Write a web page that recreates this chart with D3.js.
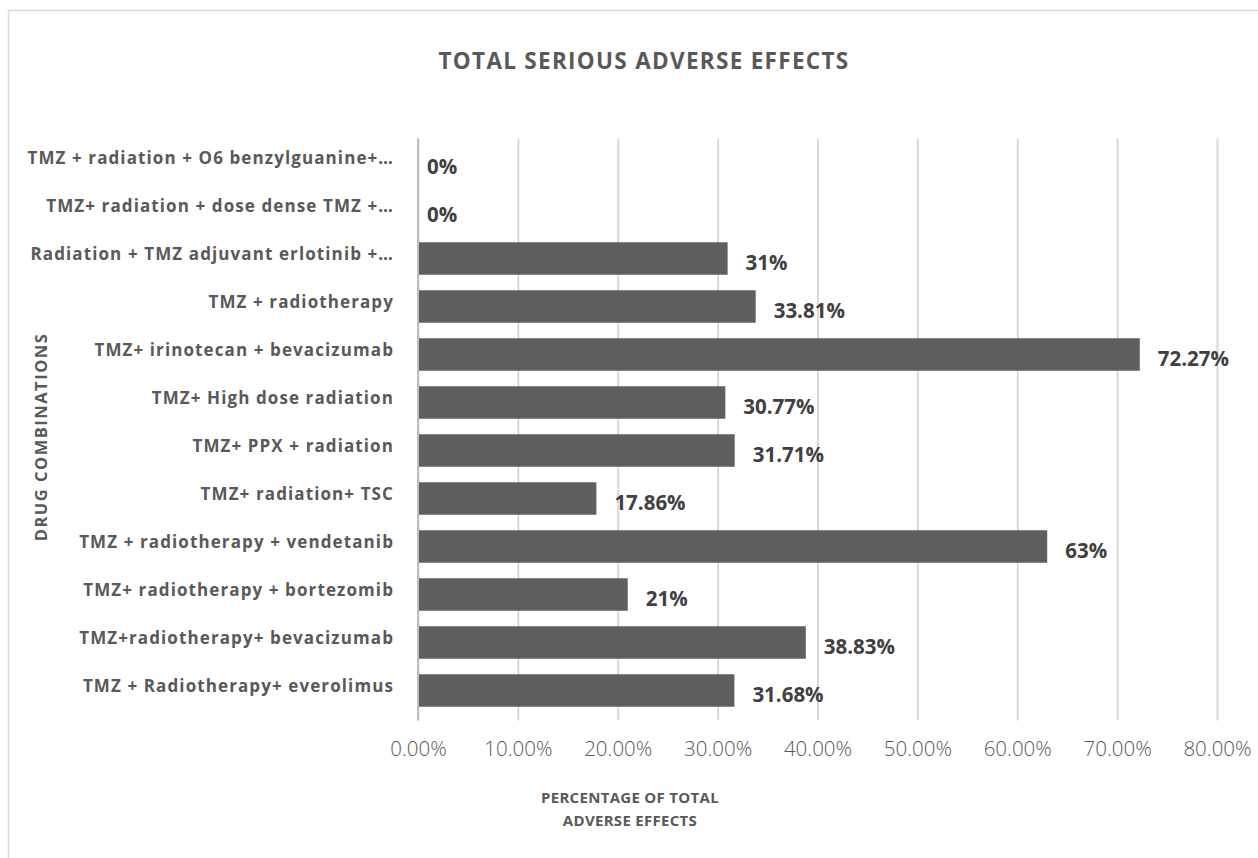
<!DOCTYPE html>
<html>
<head>
<meta charset="utf-8">
<script src="https://cdn.jsdelivr.net/npm/d3@7"></script>
<style>
  html, body { margin: 0; padding: 0; background: #fff; }
  svg { display: block; font-family: "Open Sans", "DejaVu Sans", sans-serif; }
</style>
</head>
<body>
<svg id="chart" width="1258" height="858"></svg>
<script>
// Drug combinations, listed top to bottom
const categories = [
  "TMZ + radiation + O6 benzylguanine+…",
  "TMZ+ radiation + dose dense TMZ +…",
  "Radiation + TMZ adjuvant erlotinib +…",
  "TMZ + radiotherapy",
  "TMZ+ irinotecan + bevacizumab",
  "TMZ+ High dose radiation",
  "TMZ+ PPX + radiation",
  "TMZ+ radiation+ TSC",
  "TMZ + radiotherapy + vendetanib",
  "TMZ+ radiotherapy + bortezomib",
  "TMZ+radiotherapy+ bevacizumab",
  "TMZ + Radiotherapy+ everolimus"
];

// Share of total serious adverse effects (fractions)
const values = [0, 0, 0.31, 0.3381, 0.7227, 0.3077, 0.3171, 0.1786, 0.63, 0.21, 0.3883, 0.3168];

// Printed value labels
const valueLabels = ["0%", "0%", "31%", "33.81%", "72.27%", "30.77%", "31.71%", "17.86%", "63%", "21%", "38.83%", "31.68%"];

// Value axis ticks
const tickValues = [0, 0.1, 0.2, 0.3, 0.4, 0.5, 0.6, 0.7, 0.8];

const chartTitle = "TOTAL SERIOUS ADVERSE EFFECTS";
const xTitleLines = ["PERCENTAGE OF TOTAL", "ADVERSE EFFECTS"];
const yTitle = "DRUG COMBINATIONS";

const svg = d3.select("#chart");

const plot = { left: 418, right: 1217, top: 138.5, bottom: 714.5 };

// Chart area border
svg.append("rect")
  .attr("x", 8.5).attr("y", 10.5)
  .attr("width", 1270).attr("height", 870)
  .attr("fill", "#fff")
  .attr("stroke", "#d9d9d9")
  .attr("stroke-width", 1.5);

const x = d3.scaleLinear().domain([0, 0.8]).range([plot.left, plot.right]);
const y = d3.scaleBand()
  .domain(categories)
  .range([plot.top, plot.bottom])
  .paddingInner(0.323)
  .paddingOuter(0.1615);

// Vertical gridlines, extended below the plot as tick marks
const xAxis = d3.axisBottom(x)
  .tickValues(tickValues)
  .tickSize(-(plot.bottom - plot.top) - 6)
  .tickFormat(d3.format(".2%"))
  .tickPadding(22);

const gx = svg.append("g")
  .attr("transform", `translate(0,${plot.bottom + 6})`)
  .call(xAxis);
gx.select(".domain").remove();
gx.selectAll(".tick line")
  .attr("stroke", "#d9d9d9")
  .attr("stroke-width", 2);
gx.selectAll(".tick text")
  .attr("fill", "#595959")
  .attr("font-size", 20.5)
  .attr("font-weight", 300)
  .attr("dy", "0.68em")
  .style("font-family", "'Open Sans', sans-serif");

// Bars
svg.append("g")
  .selectAll("rect")
  .data(values)
  .join("rect")
  .attr("x", x(0))
  .attr("y", (d, i) => y(categories[i]))
  .attr("width", d => x(d) - x(0))
  .attr("height", y.bandwidth())
  .attr("fill", "#5f5f5f");

// Category axis
const yAxis = d3.axisLeft(y).tickSize(0).tickPadding(24);
const gy = svg.append("g")
  .attr("transform", `translate(${plot.left},0)`)
  .call(yAxis);
gy.select(".domain")
  .attr("stroke", "#bfbfbf")
  .attr("stroke-width", 2)
  .attr("d", `M0,${plot.top}V${plot.bottom + 6}`);
gy.selectAll(".tick text")
  .attr("fill", "#595959")
  .attr("font-size", 17)
  .attr("font-weight", 700)
  .attr("letter-spacing", 1.1)
  .attr("dy", "0.1em")
  .style("font-family", "'Open Sans', sans-serif");

// Value labels
svg.append("g")
  .selectAll("text")
  .data(values)
  .join("text")
  .attr("x", d => x(d) + (d === 0 ? 9 : 18))
  .attr("y", (d, i) => y(categories[i]) + y.bandwidth() / 2 + 4)
  .attr("dy", "0.35em")
  .attr("fill", "#404040")
  .attr("font-size", 20.5)
  .attr("font-weight", 700)
  .text((d, i) => valueLabels[i]);

// Chart title
svg.append("text")
  .attr("x", 644).attr("y", 69)
  .attr("text-anchor", "middle")
  .attr("fill", "#595959")
  .attr("font-size", 22.5)
  .attr("font-weight", 700)
  .attr("letter-spacing", 1.3)
  .text(chartTitle);

// Value axis title
svg.append("g")
  .selectAll("text")
  .data(xTitleLines)
  .join("text")
  .attr("x", 630)
  .attr("y", (d, i) => 803 + i * 23)
  .attr("text-anchor", "middle")
  .attr("fill", "#595959")
  .attr("font-size", 15)
  .attr("font-weight", 700)
  .attr("letter-spacing", 0.3)
  .text(d => d);

// Category axis title
svg.append("text")
  .attr("transform", "translate(47,437) rotate(-90)")
  .attr("text-anchor", "middle")
  .attr("fill", "#595959")
  .attr("font-size", 16.5)
  .attr("font-weight", 700)
  .attr("letter-spacing", 1.5)
  .text(yTitle);
</script>
</body>
</html>
